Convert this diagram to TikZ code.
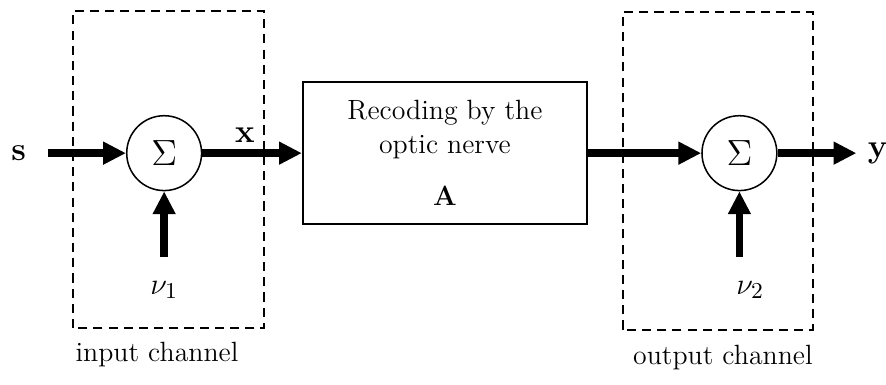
\documentclass[tikz,border=0pt]{standalone}
\usetikzlibrary{arrows.meta}

\tikzset{
    sig/.style={line width=3pt, -{Triangle[length=9pt,width=8.5pt]}},
    sumnode/.style={draw, circle, line width=0.6pt, minimum size=1.04cm, inner sep=0pt, font=\fontsize{14}{16}\selectfont},
    chan/.style={dashed, line width=0.8pt, dash pattern=on 3.6pt off 2.4pt},
    lbl/.style={font=\fontsize{13}{15}\selectfont},
}

\begin{document}
\begin{tikzpicture}[font=\fontsize{11}{13.5}\selectfont]

    \useasboundingbox (0,0) rectangle (12.306,5.347);

    % channel frames
    \draw[chan] (1.01,0.79) rectangle (3.67,5.19);
    \draw[chan] (8.65,0.77) rectangle (11.29,5.18);

    \node (inlab) at (2.18,0.42) {input channel};
    \node (outlab) at (10.04,0.38) {output channel};

    \node[lbl] (s) at (0.26,3.22) {\textbf{s}};
    \node[sumnode] (sum1) at (2.28,3.22) {$\Sigma$};
    \node[lbl] (nu1) at (2.28,1.32) {$\nu_1$};
    \node[lbl] (xlab) at (3.40,3.47) {\textbf{x}};

    \node[draw, rectangle, line width=1pt, minimum width=3.94cm, minimum height=1.97cm, align=center] (rec) at (6.18,3.22)
        {Recoding by the\\optic nerve\\[7pt]\textbf{A}};

    \node[sumnode] (sum2) at (10.27,3.22) {$\Sigma$};
    \node[lbl] (nu2) at (10.42,1.32) {$\nu_2$};
    \node[lbl] (y) at (12.19,3.22) {\textbf{y}};

    \coordinate (n1in) at (2.28,1.78);
    \coordinate (n2in) at (10.27,1.78);

    \draw[sig, shorten <=5pt] (s) -- (sum1);
    \draw[sig] (n1in) -- (sum1);
    \draw[sig] (sum1) -- (rec);
    \draw[sig] (rec) -- (sum2);
    \draw[sig] (n2in) -- (sum2);
    \draw[sig, shorten >=1pt] (sum2) -- (y);

\end{tikzpicture}
\end{document}
